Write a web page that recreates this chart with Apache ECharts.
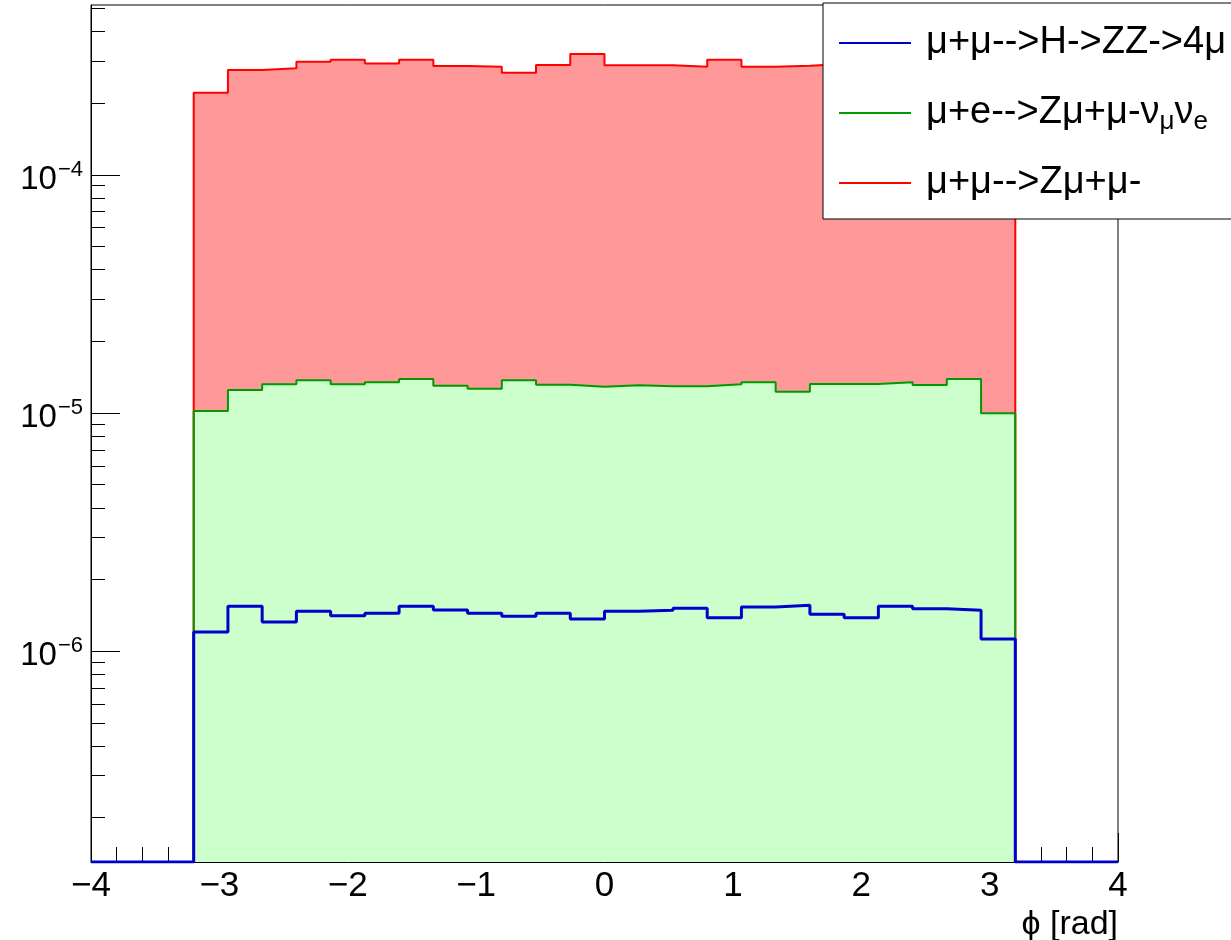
<!DOCTYPE html>
<html>
<head>
<meta charset="utf-8">
<script src="https://cdn.jsdelivr.net/npm/echarts@6/dist/echarts.min.js"></script>
<style>
  html, body { margin: 0; padding: 0; background: #ffffff; }
  #chart { width: 1231px; height: 940px; }
</style>
</head>
<body>
<div id="chart"></div>
<script>
// Histogram binning in phi [rad]
const PHI_MIN = -3.2;
const PHI_MAX = 3.2;
const N_BINS = 24;

// Visible axis range
const X_MIN = -4;
const X_MAX = 4;
const Y_MIN = 1.303e-7;
const Y_MAX = 5.16e-4;

// Legend / series titles (top to bottom in the legend box)
const nameHZZ = 'μ+μ-->H->ZZ->4μ';
const nameZmumuNu = 'μ+e-->Zμ+μ-νμνe';
const nameZmumu = 'μ+μ-->Zμ+μ-';

// Cumulative stack heights per bin (each level includes the ones below it)
const levelZmumu = [
  2.21e-4, 2.75e-4, 2.80e-4, 2.98e-4, 3.04e-4, 2.93e-4,
  3.04e-4, 2.86e-4, 2.84e-4, 2.68e-4, 2.89e-4, 3.21e-4,
  2.88e-4, 2.88e-4, 2.84e-4, 3.04e-4, 2.84e-4, 2.87e-4,
  2.92e-4, 2.90e-4, 2.95e-4, 2.88e-4, 2.92e-4, 2.35e-4
];
const levelZmumuNu = [
  1.019e-5, 1.249e-5, 1.319e-5, 1.372e-5, 1.319e-5, 1.345e-5,
  1.389e-5, 1.302e-5, 1.265e-5, 1.372e-5, 1.314e-5, 1.289e-5,
  1.307e-5, 1.294e-5, 1.294e-5, 1.319e-5, 1.345e-5, 1.229e-5,
  1.323e-5, 1.323e-5, 1.345e-5, 1.310e-5, 1.389e-5, 9.97e-6
];
const levelHZZ = [
  1.204e-6, 1.543e-6, 1.326e-6, 1.470e-6, 1.409e-6, 1.442e-6,
  1.543e-6, 1.489e-6, 1.442e-6, 1.401e-6, 1.442e-6, 1.365e-6,
  1.470e-6, 1.485e-6, 1.514e-6, 1.382e-6, 1.533e-6, 1.559e-6,
  1.428e-6, 1.382e-6, 1.543e-6, 1.508e-6, 1.485e-6, 1.125e-6
];

// Log-axis tick layout: labelled decades and the 2..9 sub-ticks of each decade
const decadeExponents = [-6, -5, -4];
const subTickMultipliers = [2, 3, 4, 5, 6, 7, 8, 9];
const subTickDecades = [-7, -6, -5, -4];

const FONT = '"Liberation Sans", Arial, Helvetica, sans-serif';

const binWidth = (PHI_MAX - PHI_MIN) / N_BINS;
const binLowEdges = [];
for (let i = 0; i < N_BINS; i++) binLowEdges.push(PHI_MIN + i * binWidth);

// Step outline of a histogram, lying on the bottom of the frame outside the filled range
function histOutline(levels) {
  const pts = [[X_MIN, Y_MIN], [PHI_MIN, Y_MIN]];
  levels.forEach((v, i) => pts.push([binLowEdges[i], v]));
  pts.push([PHI_MAX, levels[levels.length - 1]]);
  pts.push([PHI_MAX, Y_MIN], [X_MAX, Y_MIN]);
  return pts;
}

const logMin = Math.log10(Y_MIN);
const logMax = Math.log10(Y_MAX);
const subTicks = [];
subTickDecades.forEach(d => subTickMultipliers.forEach(m => {
  const v = Math.log10(m) + d;
  if (v > logMin && v < logMax) subTicks.push(v);
}));

const minus = s => String(s).replace('-', '\u2212');

const chart = echarts.init(document.getElementById('chart'), null, { renderer: 'canvas' });

chart.setOption({
  animation: false,
  backgroundColor: '#ffffff',
  textStyle: { fontFamily: FONT },
  grid: {
    left: 91, right: 113, top: 5, bottom: 78,
    outerBoundsMode: 'none',
    containLabel: false,
    show: true, borderColor: '#000000', borderWidth: 1,
    backgroundColor: 'transparent'
  },
  legend: {
    orient: 'vertical',
    left: 823, top: 3,
    padding: [18, 8, 14, 15],
    itemWidth: 72, itemHeight: 40, itemGap: 26,
    backgroundColor: '#ffffff',
    borderColor: '#000000', borderWidth: 1, borderRadius: 0,
    selectedMode: false,
    itemStyle: { opacity: 0 },
    data: [nameHZZ, nameZmumuNu, nameZmumu],
    formatter: function (name) {
      if (name === nameZmumuNu) {
        return '{t|μ+e-->Zμ+μ-ν}{sub|μ}{t|ν}{sub|e}';
      }
      return '{t|' + name + '}';
    },
    textStyle: {
      color: '#000000',
      fontFamily: FONT,
      fontSize: 38,
      lineHeight: 44,
      padding: [0, 0, 0, 10],
      rich: {
        t: { fontSize: 38, lineHeight: 44, fontFamily: FONT, color: '#000000' },
        sub: { fontSize: 26, lineHeight: 26, padding: [18, 0, 0, 0], fontFamily: FONT, color: '#000000' }
      }
    }
  },
  xAxis: {
    type: 'value',
    min: X_MIN, max: X_MAX, interval: 1,
    name: 'ϕ [rad]',
    nameLocation: 'end',
    nameGap: 0,
    nameTextStyle: {
      fontSize: 34, color: '#000000', fontFamily: FONT,
      align: 'right', verticalAlign: 'top', padding: [46, 0, 0, 0]
    },
    axisLine: { show: true, onZero: false, lineStyle: { color: '#000000', width: 1 } },
    axisTick: { show: true, inside: true, length: 29, lineStyle: { color: '#000000', width: 1 } },
    minorTick: { show: true, splitNumber: 5, length: 15, lineStyle: { color: '#000000', width: 1 } },
    splitLine: { show: false },
    minorSplitLine: { show: false },
    axisLabel: {
      fontSize: 35, lineHeight: 35, color: '#000000', fontFamily: FONT, margin: 7,
      formatter: v => minus(v)
    }
  },
  yAxis: [
    {
      // data axis (logarithmic)
      type: 'log', logBase: 10,
      min: Y_MIN, max: Y_MAX,
      show: false,
      splitLine: { show: false }
    },
    {
      // labelled decades
      type: 'value',
      min: logMin, max: logMax,
      position: 'left',
      axisLine: { show: true, onZero: false, lineStyle: { color: '#000000', width: 1 } },
      axisTick: { show: true, inside: true, length: 29, customValues: decadeExponents,
                  lineStyle: { color: '#000000', width: 1 } },
      splitLine: { show: false },
      axisLabel: {
        customValues: decadeExponents,
        margin: 8,
        padding: [10, 0, 0, 0],
        formatter: v => '{b|10}{s|' + minus(v) + '}',
        rich: {
          b: { fontSize: 33, lineHeight: 33, color: '#000000', fontFamily: FONT },
          s: { fontSize: 22, lineHeight: 22, padding: [0, 0, 20, 1], color: '#000000', fontFamily: FONT }
        }
      }
    },
    {
      // sub-decade ticks
      type: 'value',
      min: logMin, max: logMax,
      position: 'left',
      axisLine: { show: false },
      axisTick: { show: true, inside: true, length: 14, customValues: subTicks,
                  lineStyle: { color: '#000000', width: 1 } },
      axisLabel: { show: false },
      splitLine: { show: false }
    }
  ],
  series: [
    {
      name: nameZmumu,
      type: 'line', step: 'end', symbol: 'none',
      xAxisIndex: 0, yAxisIndex: 0,
      data: histOutline(levelZmumu),
      lineStyle: { color: '#ff0000', width: 2 },
      itemStyle: { color: '#ff0000' },
      areaStyle: { color: '#ff9999', opacity: 1, origin: Y_MIN }
    },
    {
      name: nameZmumuNu,
      type: 'line', step: 'end', symbol: 'none',
      xAxisIndex: 0, yAxisIndex: 0,
      data: histOutline(levelZmumuNu),
      lineStyle: { color: '#009900', width: 2 },
      itemStyle: { color: '#009900' },
      areaStyle: { color: '#ccffcc', opacity: 1, origin: Y_MIN }
    },
    {
      name: nameHZZ,
      type: 'line', step: 'end', symbol: 'none',
      xAxisIndex: 0, yAxisIndex: 0,
      data: histOutline(levelHZZ),
      lineStyle: { color: '#0000cc', width: 3 },
      itemStyle: { color: '#0000cc' }
    }
  ]
});
</script>
</body>
</html>
